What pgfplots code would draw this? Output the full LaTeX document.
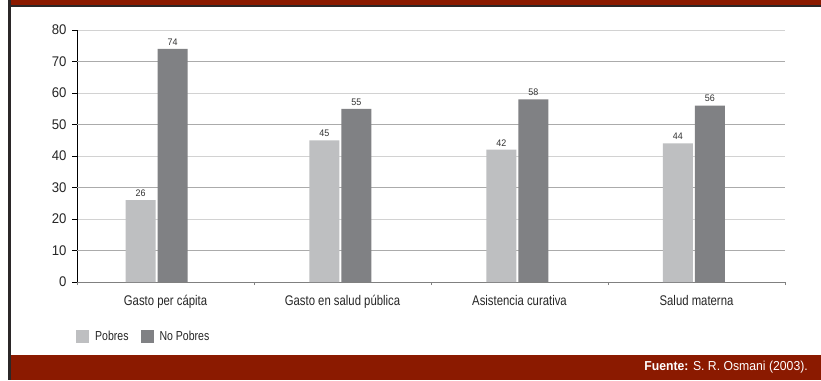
\documentclass[border=0pt]{standalone}
\usepackage{pgfplots}
\pgfplotsset{compat=1.18}
\usepackage{fontspec}
\setmainfont{Liberation Sans}[FakeStretch=0.81]
\newfontfamily\numfont{Liberation Sans}[FakeStretch=0.94]
\definecolor{banner}{HTML}{8B1A00}
\definecolor{frame}{HTML}{2B2728}
\definecolor{pobres}{HTML}{BEBFC1}
\definecolor{nopobres}{HTML}{808184}
\definecolor{gridA}{HTML}{D2D2D2}
\definecolor{gridB}{HTML}{ABABAB}
\begin{document}
\begin{tikzpicture}[x=1pt,y=1pt]
\useasboundingbox (0,0) rectangle (821,380);
\fill[white] (0,0) rectangle (821,380);
\fill[banner] (11,375) rectangle (821,380);
\fill[frame] (11,373) rectangle (821,375);
\fill[banner] (11,0) rectangle (821,25);
\fill[frame] (8,0) rectangle (11,380);
\begin{axis}[
  at={(77pt,98pt)}, anchor=south west,
  scale only axis, width=708pt, height=252pt,
  xmin=-0.5, xmax=3.5, ymin=0, ymax=80,
  ybar, bar width=30pt,
  axis x line=bottom, axis y line=left,
  x axis line style={-, color=gray, line width=1pt},
  y axis line style={-, color=black, line width=0.8pt},
  xtick={0,1,2,3},
  xticklabels={Gasto per cápita, Gasto en salud pública, Asistencia curativa, Salud materna},
  minor xtick={-0.5,0.5,1.5,2.5,3.5},
  major x tick style={draw=none},
  minor x tick style={color=gray, line width=0.8pt},
  minor tick length=3pt,
  tick align=outside,
  xticklabel style={font=\fontsize{14}{16}\selectfont, color=black!85, yshift=-5pt},
  ytick={0,20,40,60,80},
  extra y ticks={10,30,50,70},
  extra y tick style={major grid style={color=gridB, line width=1pt}},
  ymajorgrids,
  major grid style={color=gridA, line width=1pt},
  major y tick style={color=black, line width=0.6pt},
  major tick length=5pt,
  yticklabel style={font=\numfont\fontsize{14}{16}\selectfont, color=black!85, xshift=-2pt},
  /pgf/number format/assume math mode=true,
  nodes near coords,
  nodes near coords style={font=\numfont\fontsize{9.5}{11}\selectfont, color=black!80, yshift=0pt},
  axis on top=false,
  clip=false,
  legend columns=2,
  legend style={at={(-0.0014,-0.218)}, anchor=west, draw=none, fill=none,
    inner sep=0pt, column sep=0pt,
    nodes={inner sep=0pt, font=\fontsize{13}{15}\selectfont, color=black!85}},
]
\addplot[fill=pobres, draw=none, bar shift=-16pt,
  legend image code/.code={\fill[pobres] (0pt,-6.5pt) rectangle (13pt,6.5pt);}]
  coordinates {(-0.05,26) (0.988,45) (1.988,42) (2.985,44)};
\addplot[fill=nopobres, draw=none, bar shift=16pt,
  legend image code/.code={\fill[nopobres] (0pt,-6.5pt) rectangle (13pt,6.5pt);}]
  coordinates {(-0.05,74) (0.988,55) (1.988,58) (2.985,56)};
\legend{\hspace*{6pt}Pobres\hspace*{12pt}, \hspace*{6pt}No Pobres}
\end{axis}
\node[anchor=east, text=white, font=\numfont\fontsize{13}{15}\selectfont, inner sep=0pt] at (808,12.5) {\textbf{Fuente:} S. R. Osmani (2003).};
\end{tikzpicture}
\end{document}
